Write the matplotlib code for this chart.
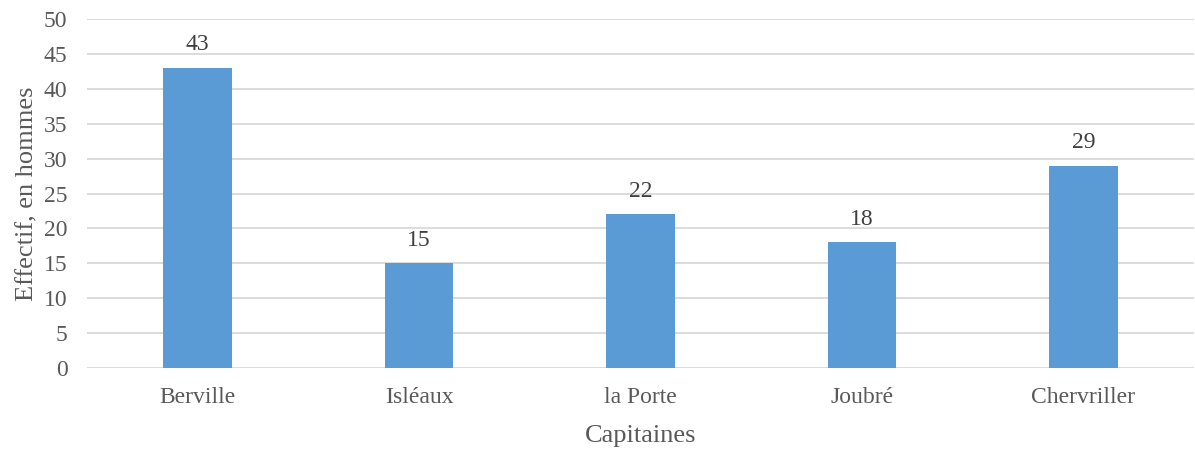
import matplotlib
matplotlib.use('Agg')
import matplotlib.pyplot as plt
import numpy as np

### data
capitaines = ['Berville', 'Isléaux', 'la Porte', 'Joubré', 'Chervriller']
effectifs = [43, 15, 22, 18, 29]

plt.rcParams['font.family'] = ['Liberation Serif', 'DejaVu Serif']
text_color = '#595959'

fig = plt.figure(figsize=(11.95, 4.5), dpi=100)
ax = fig.add_axes([87 / 1195, (450 - 368) / 450, (1194 - 87) / 1195, (368 - 19) / 450])

x = np.arange(len(capitaines))
bars = ax.bar(x, effectifs, width=0.31, color='#5B9BD5', zorder=3)
for xi, v in zip(x, effectifs):
    ax.text(xi, v + 1.8, str(v), ha='center', va='bottom', fontsize=17, color='#404040')

ax.set_xlim(-0.5, len(capitaines) - 0.5)
ax.set_ylim(0, 50)
ax.set_yticks(range(0, 51, 5))
ax.set_xticks(x)
ax.set_xticklabels(capitaines)
ax.tick_params(axis='both', length=0, labelsize=17, colors=text_color)
ax.tick_params(axis='x', pad=14)
ax.tick_params(axis='y', pad=14)
ax.yaxis.grid(True, color='#d9d9d9', linewidth=1.3, zorder=0)
for s in ax.spines.values():
    s.set_visible(False)

ax.set_xlabel('Capitaines', fontsize=19, color=text_color, labelpad=12)
ax.set_ylabel('Effectif, en hommes', fontsize=19, color=text_color, labelpad=4)

fig.savefig('out.png', dpi=100)
